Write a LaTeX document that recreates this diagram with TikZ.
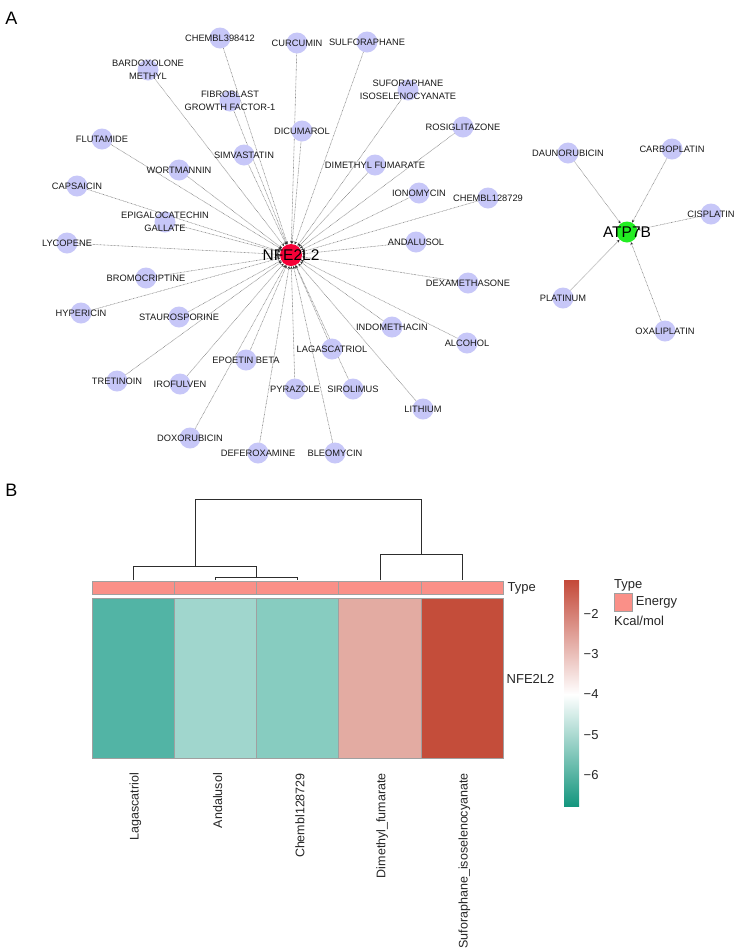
\documentclass[tikz,border=0pt]{standalone}
\usepackage{fontspec}
\setmainfont{Liberation Sans}
\usetikzlibrary{arrows.meta,backgrounds}
\definecolor{lav}{RGB}{199,199,248}
\definecolor{hubred}{RGB}{245,0,55}
\definecolor{hubgreen}{RGB}{34,238,34}
\definecolor{edgegray}{RGB}{135,135,135}
\definecolor{tipgray}{RGB}{50,50,50}
\definecolor{labcol}{RGB}{25,25,25}
\definecolor{typecol}{RGB}{250,144,136}
\definecolor{cellborder}{RGB}{160,160,160}
\definecolor{cLag}{RGB}{82,180,165}
\definecolor{cAnd}{RGB}{160,214,205}
\definecolor{cChe}{RGB}{135,204,192}
\definecolor{cDim}{RGB}{227,171,162}
\definecolor{cSuf}{RGB}{196,77,58}
\definecolor{barred}{RGB}{196,74,58}
\definecolor{barteal}{RGB}{20,150,126}
\definecolor{dendcol}{RGB}{45,45,45}
\begin{document}
\begin{tikzpicture}[x=1pt,y=-1pt,
  drug/.style={circle, fill=lav, minimum size=21pt, inner sep=0pt},
  dlab/.style={font=\fontsize{9.3}{13}\selectfont, text=labcol, align=center, inner sep=0pt},
  hublab/.style={font=\fontsize{15.5}{16}\selectfont, text=black, inner sep=0pt},
  edgeline/.style={draw=edgegray, line width=0.6pt, dash pattern=on 0.7pt off 0.7pt,
     -{Stealth[length=3pt,width=2.6pt,color=tipgray]}},
  hmlab/.style={font=\fontsize{13}{15}\selectfont, text=black!85, inner sep=0pt},
  collab/.style={font=\fontsize{12.5}{15}\selectfont, text=black!85, inner sep=0pt, rotate=90, anchor=east},
  dendro/.style={draw=dendcol, line width=1pt},
  cellbox/.style={draw=cellborder, line width=0.9pt}
]
\useasboundingbox (0,0) rectangle (745,951);

% panel letters
\node[font=\fontsize{18}{18}\selectfont, inner sep=0pt] (panelA) at (11.5,18.5) {A};
\node[font=\fontsize{18}{18}\selectfont, inner sep=0pt] (panelB) at (11.5,490.5) {B};

% ---------- network A ----------
\node[circle, fill=hubred, minimum size=22pt, inner sep=0pt, label={[hublab]center:NFE2L2}] (nfe) at (291,255) {};
\node[circle, fill=hubgreen, minimum size=21pt, inner sep=0pt, label={[hublab]center:ATP7B}] (atp) at (627,232) {};

\node[drug, label={[dlab]center:CHEMBL398412}] (chembl398) at (220,38) {};
\node[drug, label={[dlab]center:{BARDOXOLONE\\METHYL}}] (bardox) at (148,70) {};
\node[drug, label={[dlab]center:{FIBROBLAST\\GROWTH FACTOR-1}}] (fibro) at (230,101) {};
\node[drug, label={[dlab]center:CURCUMIN}] (curcumin) at (297,43) {};
\node[drug, label={[dlab]center:SULFORAPHANE}] (sulfor) at (367,42) {};
\node[drug, label={[dlab]center:{SUFORAPHANE\\ISOSELENOCYANATE}}] (sufiso) at (408,90) {};
\node[drug, label={[dlab]center:ROSIGLITAZONE}] (rosig) at (463,127) {};
\node[drug, label={[dlab]center:DICUMAROL}] (dicum) at (302,131) {};
\node[drug, label={[dlab]center:SIMVASTATIN}] (simva) at (244,155) {};
\node[drug, label={[dlab]center:FLUTAMIDE}] (flut) at (102,139) {};
\node[drug, label={[dlab]center:WORTMANNIN}] (wort) at (179,170) {};
\node[drug, label={[dlab]center:CAPSAICIN}] (caps) at (77,186) {};
\node[drug, label={[dlab]center:DIMETHYL FUMARATE}] (dimeth) at (375,165) {};
\node[drug, label={[dlab]center:IONOMYCIN}] (iono) at (419,193) {};
\node[drug, label={[dlab]center:CHEMBL128729}] (chembl128) at (488,198) {};
\node[drug, label={[dlab]center:{EPIGALOCATECHIN\\GALLATE}}] (egcg) at (165,222) {};
\node[drug, label={[dlab]center:LYCOPENE}] (lyco) at (67,243) {};
\node[drug, label={[dlab]center:ANDALUSOL}] (andal) at (416,242) {};
\node[drug, label={[dlab]center:BROMOCRIPTINE}] (bromo) at (146,278) {};
\node[drug, label={[dlab]center:DEXAMETHASONE}] (dexa) at (468,283) {};
\node[drug, label={[dlab]center:HYPERICIN}] (hyper) at (81,313) {};
\node[drug, label={[dlab]center:STAUROSPORINE}] (stauro) at (179,317) {};
\node[drug, label={[dlab]center:INDOMETHACIN}] (indo) at (392,327) {};
\node[drug, label={[dlab]center:ALCOHOL}] (alcohol) at (467,343) {};
\node[drug, label={[dlab]center:LAGASCATRIOL}] (lagas) at (332,349) {};
\node[drug, label={[dlab]center:EPOETIN BETA}] (epoetin) at (246,360) {};
\node[drug, label={[dlab]center:TRETINOIN}] (tretin) at (117,381) {};
\node[drug, label={[dlab]center:IROFULVEN}] (irof) at (180,384) {};
\node[drug, label={[dlab]center:PYRAZOLE}] (pyraz) at (295,389) {};
\node[drug, label={[dlab]center:SIROLIMUS}] (sirol) at (353,389) {};
\node[drug, label={[dlab]center:LITHIUM}] (lith) at (423,409) {};
\node[drug, label={[dlab]center:DOXORUBICIN}] (doxo) at (190,438) {};
\node[drug, label={[dlab]center:DEFEROXAMINE}] (defer) at (258,453) {};
\node[drug, label={[dlab]center:BLEOMYCIN}] (bleo) at (335,453) {};

\node[drug, label={[dlab]center:DAUNORUBICIN}] (dauno) at (568,153) {};
\node[drug, label={[dlab]center:CARBOPLATIN}] (carbo) at (672,149) {};
\node[drug, label={[dlab]center:CISPLATIN}] (cispl) at (711,214) {};
\node[drug, label={[dlab]center:PLATINUM}] (plat) at (563,298) {};
\node[drug, label={[dlab]center:OXALIPLATIN}] (oxali) at (665,331) {};

\begin{scope}[on background layer]
  \fill[white] (0,0) rectangle (745,951);
  \foreach \d in {chembl398,bardox,fibro,curcumin,sulfor,sufiso,rosig,dicum,simva,flut,wort,caps,dimeth,iono,chembl128,egcg,lyco,andal,bromo,dexa,hyper,stauro,indo,alcohol,lagas,epoetin,tretin,irof,pyraz,sirol,lith,doxo,defer,bleo}
    \draw[edgeline] (\d) -- (nfe);
  \foreach \d in {dauno,carbo,cispl,plat,oxali}
    \draw[edgeline] (\d) -- (atp);
\end{scope}

% ---------- heatmap B ----------
% dendrogram
\draw[dendro] (133.4,580) -- (133.4,566.7) -- (256.7,566.7) -- (256.7,577);
\draw[dendro] (215.6,580) -- (215.6,577) -- (297.8,577) -- (297.8,580);
\draw[dendro] (195,566.7) -- (195,499.3) -- (421,499.3) -- (421,554.3);
\draw[dendro] (380,580) -- (380,554.3) -- (462.2,554.3) -- (462.2,580);

% type annotation bar
\foreach \i in {0,...,4}
  \filldraw[cellbox, fill=typecol] ({92.3+82.2*\i},581.7) rectangle ({92.3+82.2*(\i+1)},594);
% heat cells
\filldraw[cellbox, fill=cLag] (92.3,598.3) rectangle (174.5,758);
\filldraw[cellbox, fill=cAnd] (174.5,598.3) rectangle (256.7,758);
\filldraw[cellbox, fill=cChe] (256.7,598.3) rectangle (338.9,758);
\filldraw[cellbox, fill=cDim] (338.9,598.3) rectangle (421.1,758);
\filldraw[cellbox, fill=cSuf] (421.1,598.3) rectangle (503.3,758);

\node[hmlab, anchor=west] (rowtype) at (507.5,588.5) {Type};
\node[hmlab, anchor=west] (rownfe) at (506.5,679) {NFE2L2};

\node[collab] (colLag) at (135.5,773) {Lagascatriol};
\node[collab] (colAnd) at (217.7,773) {Andalusol};
\node[collab] (colChe) at (299.9,773) {Chembl128729};
\node[collab] (colDim) at (382.1,773) {Dimethyl\_fumarate};
\node[collab] (colSuf) at (464.3,773) {Suforaphane\_isoselenocyanate};

% colour bar
\shade[top color=barred, bottom color=white] (564,580.7) rectangle (579,694.5);
\shade[top color=white, bottom color=barteal] (564,694.5) rectangle (579,806);
\node[hmlab, anchor=west] (tk2) at (583.5,614) {−2};
\node[hmlab, anchor=west] (tk3) at (583.5,654.3) {−3};
\node[hmlab, anchor=west] (tk4) at (583.5,694.5) {−4};
\node[hmlab, anchor=west] (tk5) at (583.5,734.7) {−5};
\node[hmlab, anchor=west] (tk6) at (583.5,775) {−6};

% legend
\node[hmlab, anchor=west] (legtype) at (614,585) {Type};
\filldraw[cellbox, fill=typecol] (614.3,593.3) rectangle (632.7,611);
\node[hmlab, anchor=west] (legenergy) at (635.7,602.5) {Energy};
\node[hmlab, anchor=west] (legkcal) at (614,620.7) {Kcal/mol};
\end{tikzpicture}
\end{document}
